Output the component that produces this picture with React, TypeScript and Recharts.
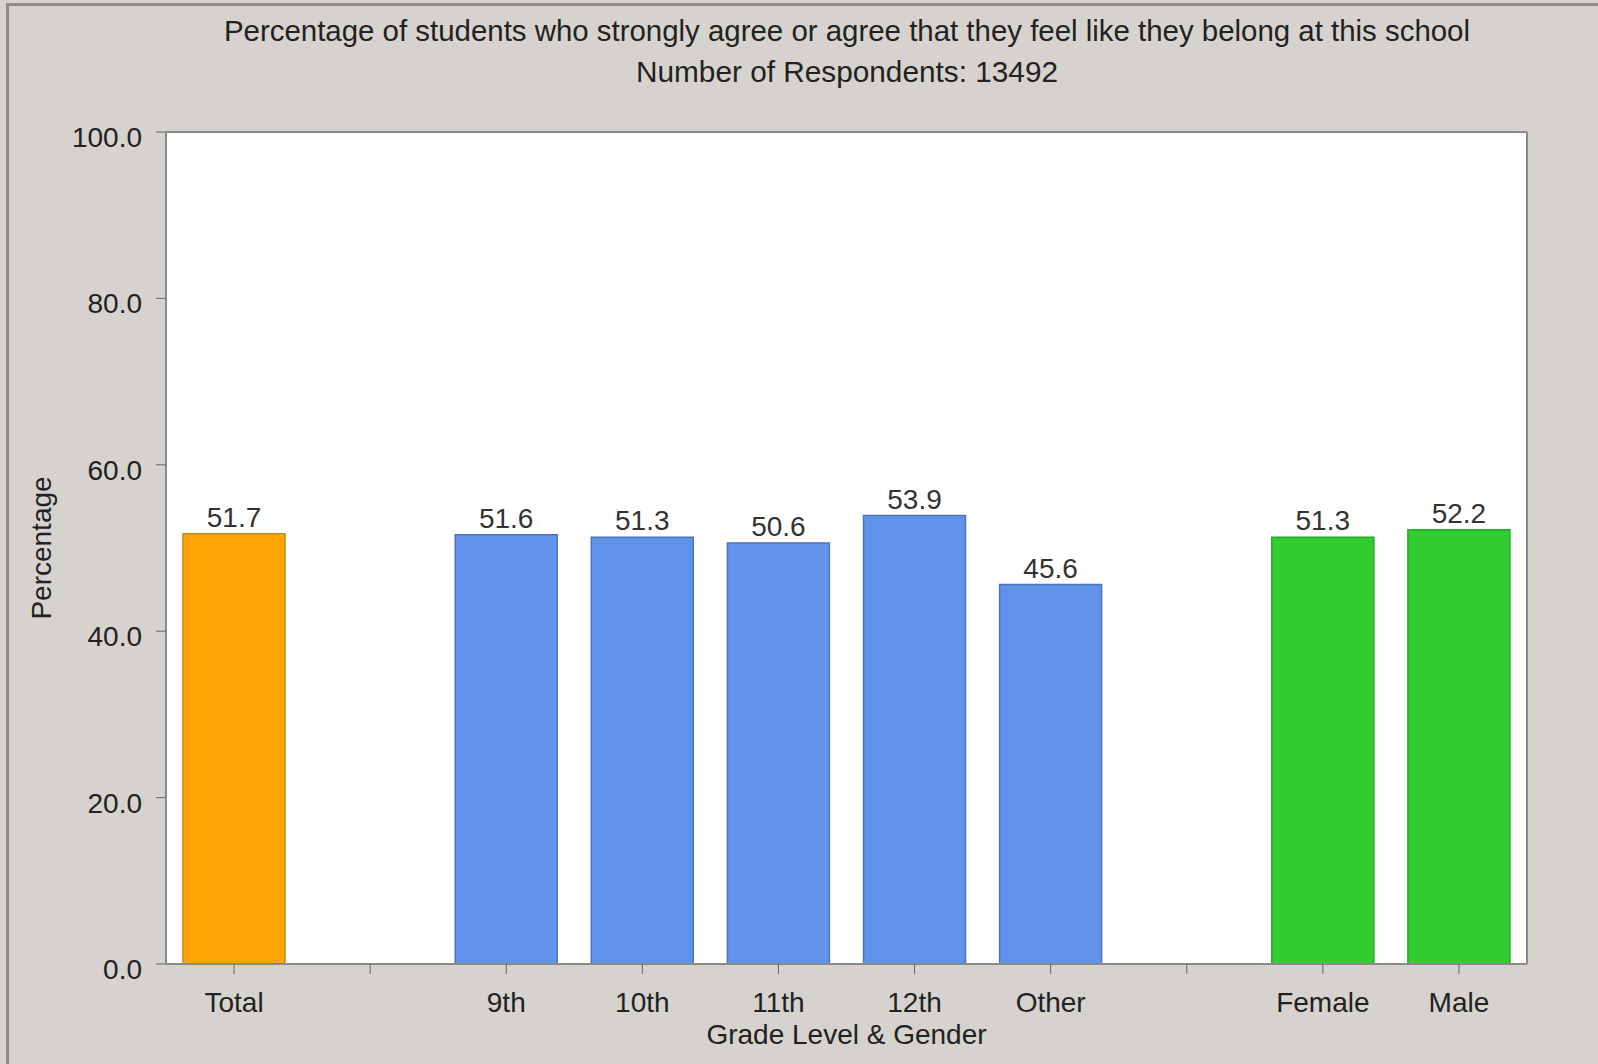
import { BarChart, Bar, XAxis, YAxis, CartesianGrid, Cell, LabelList } from 'recharts';

// Data: one slot per x position; blank slots make the gaps between groups
const categories = ['Total', '', '9th', '10th', '11th', '12th', 'Other', '', 'Female', 'Male'];
const percentages = [51.7, null, 51.6, 51.3, 50.6, 53.9, 45.6, null, 51.3, 52.2];
const groups = ['total', null, 'grade', 'grade', 'grade', 'grade', 'grade', null, 'gender', 'gender'];
const yTicks = [0, 20, 40, 60, 80, 100];

const titleLine1 = 'Percentage of students who strongly agree or agree that they feel like they belong at this school';
const titleLine2 = 'Number of Respondents: 13492';

const groupColors: Record<string, { fill: string; stroke: string }> = {
  total: { fill: '#ffa503', stroke: '#c98a1a' },
  grade: { fill: '#6193eb', stroke: '#4a74c0' },
  gender: { fill: '#31cd31', stroke: '#27a527' },
};

const data = categories.map((name, i) => ({ id: i, name, value: percentages[i], group: groups[i] }));

const FONT = '"Liberation Sans", Arial, sans-serif';
const BG = '#d6d3ce';
const FRAME = '#8a8a8a';

export default function App() {
  return (
    <div
      style={{
        position: 'absolute',
        left: 0,
        top: 0,
        width: 1598,
        height: 1064,
        background: BG,
        fontFamily: FONT,
        overflow: 'hidden',
      }}
    >
      {/* outer frame */}
      <div
        style={{
          position: 'absolute',
          left: 6,
          top: 3,
          width: 1600,
          height: 1070,
          borderLeft: '3px solid #8e8c89',
          borderTop: '3px solid #8e8c89',
        }}
      />
      <BarChart
        width={1598}
        height={1064}
        data={data}
        margin={{ top: 131, right: 70, bottom: 0, left: 0 }}
        barSize={102}
      >
        <CartesianGrid fill="#ffffff" horizontal={false} vertical={false} />
        <XAxis
          dataKey="id"
          type="category"
          interval={0}
          height={100}
          tickFormatter={(i: number) => categories[i]}
          tickSize={10}
          tickMargin={18}
          axisLine={{ stroke: FRAME, strokeWidth: 2 }}
          tickLine={{ stroke: '#666' }}
          tick={{ fill: '#222', fontSize: 28, fontFamily: FONT }}
          label={{
            value: 'Grade Level & Gender',
            position: 'insideBottom',
            offset: 20,
            fill: '#222',
            fontSize: 28,
            fontFamily: FONT,
          }}
        />
        <XAxis
          xAxisId="top"
          orientation="top"
          dataKey="id"
          height={1}
          tick={false}
          tickLine={false}
          axisLine={{ stroke: FRAME, strokeWidth: 2 }}
        />
        <YAxis
          domain={[0, 100]}
          ticks={yTicks}
          width={166}
          tickFormatter={(v: number) => v.toFixed(1)}
          tickSize={10}
          tickMargin={14}
          axisLine={{ stroke: FRAME, strokeWidth: 2 }}
          tickLine={{ stroke: '#666' }}
          tick={{ fill: '#222', fontSize: 28, fontFamily: FONT, dy: 5 }}
          label={{
            value: 'Percentage',
            angle: -90,
            position: 'insideLeft',
            offset: 41,
            fill: '#222',
            fontSize: 28,
            fontFamily: FONT,
            style: { textAnchor: 'middle' },
          }}
        />
        <YAxis
          yAxisId="right"
          orientation="right"
          domain={[0, 100]}
          width={1}
          tick={false}
          tickLine={false}
          axisLine={{ stroke: FRAME, strokeWidth: 2 }}
        />
        <Bar dataKey="value" isAnimationActive={false}>
          {data.map((d, i) => (
            <Cell
              key={i}
              fill={d.group ? groupColors[d.group].fill : 'none'}
              stroke={d.group ? groupColors[d.group].stroke : 'none'}
              strokeWidth={1.5}
            />
          ))}
          <LabelList
            dataKey="value"
            position="top"
            offset={7}
            fill="#333"
            fontSize={28}
            fontFamily={FONT}
            formatter={(v: any) => (v == null ? '' : Number(v).toFixed(1))}
          />
        </Bar>
      </BarChart>
      {/* titles */}
      <svg
        width={1598}
        height={110}
        style={{ position: 'absolute', left: 0, top: 0, pointerEvents: 'none' }}
      >
        <text
          x={847}
          y={41}
          textAnchor="middle"
          fontSize={29}
          fontFamily={FONT}
          fill="#222"
          textLength={1246}
          lengthAdjust="spacingAndGlyphs"
        >
          {titleLine1}
        </text>
        <text
          x={847}
          y={82}
          textAnchor="middle"
          fontSize={29}
          fontFamily={FONT}
          fill="#222"
          textLength={422}
          lengthAdjust="spacingAndGlyphs"
        >
          {titleLine2}
        </text>
      </svg>
    </div>
  );
}
